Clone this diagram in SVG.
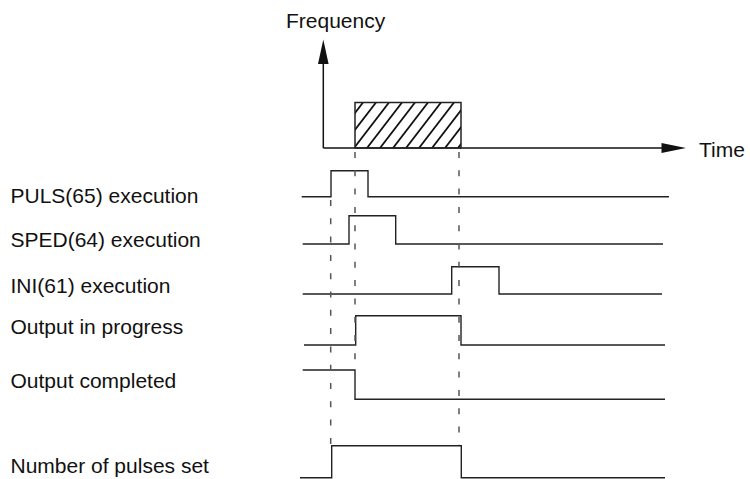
<svg xmlns="http://www.w3.org/2000/svg" width="750" height="479" viewBox="0 0 750 479">
<style>
text{font-family:"Liberation Sans",Arial,sans-serif;font-size:21px;fill:#111}
.sig{fill:none;stroke:#222;stroke-width:1.4}
.axis{fill:none;stroke:#111;stroke-width:1.5}
.dash{fill:none;stroke:#555;stroke-width:1.5;stroke-dasharray:6 12.3}
.hatch{stroke:#111;stroke-width:1.8}
</style>
<defs>
<clipPath id="hclip"><rect x="355" y="102.5" width="106" height="45.5"/></clipPath>
</defs>
<g id="axes">
<line class="axis" x1="323.3" y1="148" x2="323.3" y2="60"/>
<polygon points="323.3,39.5 318,64 328.6,64" fill="#111"/>
<line class="axis" x1="323.3" y1="148" x2="665" y2="148"/>
<polygon points="686,148 661.5,143 661.5,153" fill="#111"/>
<text x="286" y="28">Frequency</text>
<text x="699" y="157">Time</text>
</g>
<g id="output-area">
<g clip-path="url(#hclip)">
<line class="hatch" x1="363" y1="102.5" x2="328" y2="148"/>
<line class="hatch" x1="376" y1="102.5" x2="341" y2="148"/>
<line class="hatch" x1="389" y1="102.5" x2="354" y2="148"/>
<line class="hatch" x1="402" y1="102.5" x2="367" y2="148"/>
<line class="hatch" x1="415" y1="102.5" x2="380" y2="148"/>
<line class="hatch" x1="428" y1="102.5" x2="393" y2="148"/>
<line class="hatch" x1="441" y1="102.5" x2="406" y2="148"/>
<line class="hatch" x1="454" y1="102.5" x2="419" y2="148"/>
<line class="hatch" x1="467" y1="102.5" x2="432" y2="148"/>
<line class="hatch" x1="480" y1="102.5" x2="445" y2="148"/>
<line class="hatch" x1="493" y1="102.5" x2="458" y2="148"/>
</g>
<rect x="355" y="102.5" width="106" height="45.5" fill="none" stroke="#222" stroke-width="1.5"/>
</g>
<g id="puls">
<text x="10.5" y="203.3">PULS(65) execution</text>
<polyline class="sig" points="301.7,196.7 331,196.7 331,170.7 368,170.7 368,196.7 669,196.7"/>
</g>
<g id="sped">
<text x="10.5" y="247.3">SPED(64) execution</text>
<polyline class="sig" points="302.7,244 349,244 349,215.7 395.7,215.7 395.7,244 663,244"/>
</g>
<g id="ini">
<text x="10.5" y="293.3">INI(61) execution</text>
<polyline class="sig" points="302.7,294 451.7,294 451.7,266.7 499,266.7 499,294 662,294"/>
</g>
<g id="output-in-progress">
<text x="10.5" y="334.3">Output in progress</text>
<polyline class="sig" points="304,345 355.7,345 355.7,315.7 461,315.7 461,345 665,345"/>
</g>
<g id="output-completed">
<text x="10.5" y="388.3">Output completed</text>
<polyline class="sig" points="302.7,370 355,370 355,399.3 665,399.3"/>
</g>
<g id="pulses-set">
<text x="10.5" y="473.3">Number of pulses set</text>
<polyline class="sig" points="300,477.7 331.7,477.7 331.7,445.7 461.3,445.7 461.3,477.7 665,477.7"/>
</g>
<g id="connectors">
<line class="dash" x1="330.7" y1="200" x2="330.7" y2="445"/>
<line class="dash" x1="355" y1="152" x2="355" y2="369"/>
<line class="dash" x1="459" y1="152" x2="459" y2="445"/>
</g>
</svg>
